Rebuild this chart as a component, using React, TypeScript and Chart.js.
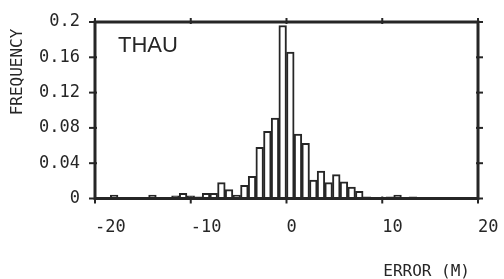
import React, { useEffect, useRef } from "react";
import { Chart, registerables } from "chart.js";

Chart.register(...registerables);

// Histogram bins (left edges, metres) and relative frequency
const binLefts = [
  -20, -19.2, -18.4, -17.6, -16.8, -16, -15.2, -14.4, -13.6, -12.8,
  -12, -11.2, -10.4, -9.6, -8.8, -8, -7.2, -6.4, -5.6, -4.8,
  -4, -3.2, -2.4, -1.6, -0.8, 0, 0.8, 1.6, 2.4, 3.2,
  4, 4.8, 5.6, 6.4, 7.2, 8, 8.8, 9.6, 10.4, 11.2,
  12, 12.8, 13.6, 14.4, 15.2, 16, 16.8, 17.6, 18.4, 19.2,
];
const binWidth = 0.8;
const frequency = [
  0.001, 0.001, 0.004, 0.001, 0, 0.001, 0.001, 0.004, 0.001, 0.001,
  0.003, 0.006, 0.003, 0.002, 0.006, 0.006, 0.018, 0.010, 0.004, 0.015,
  0.025, 0.058, 0.076, 0.091, 0.196, 0.166, 0.073, 0.0625, 0.021, 0.031,
  0.018, 0.027, 0.019, 0.013, 0.008, 0.002, 0.001, 0.001, 0.002, 0.004,
  0.001, 0.002, 0, 0, 0, 0, 0, 0, 0, 0,
];
const xTicks = [-20, -10, 0, 10, 20];
const yTicks = [0, 0.04, 0.08, 0.12, 0.16, 0.2];
const panelLabel = "THAU";
const xTitle = "ERROR (M)";
const yTitle = "FREQUENCY";

const INK = "#262626";
const MONO = "'DejaVu Sans Mono', monospace";

const framePlugin = {
  id: "frame",
  afterDatasetsDraw(chart: any) {
    const { ctx, chartArea, scales } = chart;
    const { left, right, top, bottom } = chartArea;
    const x = scales.x;
    const y = scales.y;
    ctx.save();
    ctx.strokeStyle = INK;
    ctx.lineWidth = 3;
    ctx.strokeRect(left, top, right - left, bottom - top);
    ctx.lineWidth = 2;
    const line = (x1: number, y1: number, x2: number, y2: number) => {
      ctx.beginPath();
      ctx.moveTo(x1, y1);
      ctx.lineTo(x2, y2);
      ctx.stroke();
    };
    x.ticks.forEach((t: any) => {
      const px = x.getPixelForValue(t.value);
      line(px, bottom - 2, px, bottom + 5);
      line(px, top + 2, px, top - 4);
    });
    y.ticks.forEach((t: any) => {
      const py = y.getPixelForValue(t.value);
      line(left - 6, py, left + 2, py);
      line(right - 2, py, right + 5, py);
    });
    ctx.restore();
  },
  afterDraw(chart: any) {
    const { ctx, chartArea } = chart;
    ctx.save();
    ctx.fillStyle = INK;
    ctx.font = "22px 'Liberation Sans', Arial, sans-serif";
    ctx.textAlign = "left";
    ctx.textBaseline = "alphabetic";
    ctx.fillText(panelLabel, chartArea.left + 23, chartArea.top + 30);

    ctx.font = `16px ${MONO}`;
    ctx.textAlign = "right";
    ctx.fillText(xTitle, chartArea.right - 8, 276);

    ctx.translate(22, 72);
    ctx.rotate(-Math.PI / 2);
    ctx.textAlign = "center";
    ctx.fillText(yTitle, 0, 0);
    ctx.restore();
  },
};

export default function App() {
  const ref = useRef<HTMLCanvasElement>(null);
  useEffect(() => {
    document.body.style.margin = "0";
    const points = binLefts.map((l, i) => ({ x: l + binWidth / 2, y: frequency[i] }));
    const chart = new Chart(ref.current as HTMLCanvasElement, {
      type: "bar",
      data: {
        datasets: [
          {
            data: points as any,
            backgroundColor: "#ffffff",
            borderColor: INK,
            borderWidth: 2,
            barPercentage: 1,
            categoryPercentage: 1,
          },
        ],
      },
      options: {
        responsive: false,
        animation: false,
        events: [],
        layout: { padding: { top: 22, right: 26, left: 0, bottom: 0 } },
        plugins: { legend: { display: false }, tooltip: { enabled: false } },
        scales: {
          x: {
            type: "linear",
            min: -20,
            max: 20,
            offset: false,
            afterBuildTicks: (s: any) => {
              s.ticks = xTicks.map((v) => ({ value: v }));
            },
            afterFit: (s: any) => {
              s.height = 80.5;
              s.paddingLeft = 0;
              s.paddingRight = 0;
            },
            grid: { display: false, drawTicks: false },
            border: { display: false },
            ticks: {
              align: "start",
              maxRotation: 0,
              padding: 19,
              color: INK,
              font: { family: MONO, size: 17 },
              callback: (v: any) => String(v),
            },
          },
          y: {
            type: "linear",
            min: 0,
            max: 0.2,
            afterBuildTicks: (s: any) => {
              s.ticks = yTicks.map((v) => ({ value: v }));
            },
            afterFit: (s: any) => {
              s.width = 95;
              s.paddingTop = 0;
              s.paddingBottom = 0;
            },
            grid: { display: false, drawTicks: false },
            border: { display: false },
            ticks: {
              padding: 15,
              color: INK,
              font: { family: MONO, size: 17 },
              callback: (v: any) => String(Number(Number(v).toFixed(2))),
            },
          },
        },
      },
      plugins: [framePlugin],
    });
    return () => chart.destroy();
  }, []);
  return (
    <div style={{ width: 504, height: 279, background: "#fff" }}>
      <canvas ref={ref} width={504} height={279} />
    </div>
  );
}
